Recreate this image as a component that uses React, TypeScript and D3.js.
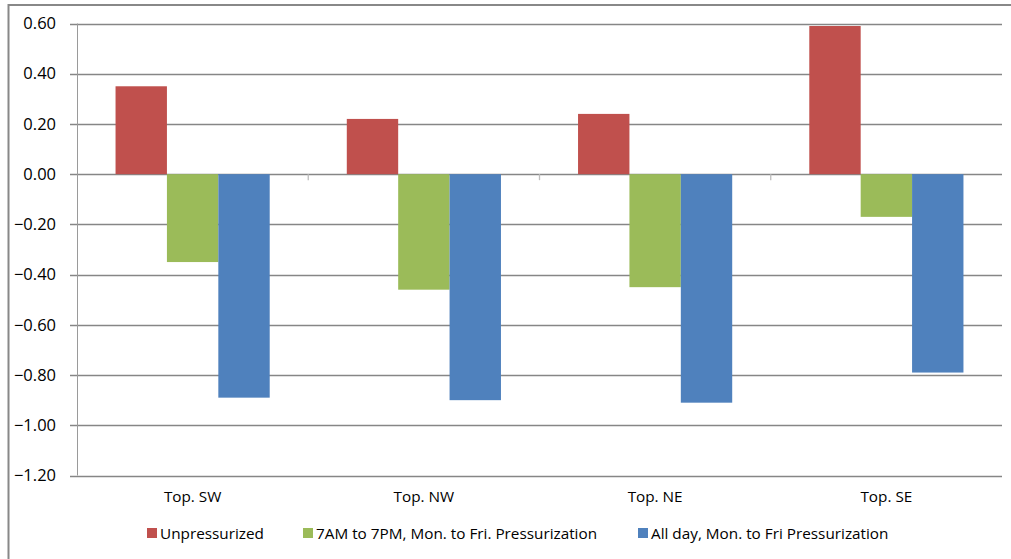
import React from "react";
import * as d3 from "d3";

const categories = ["Top. SW", "Top. NW", "Top. NE", "Top. SE"];
const seriesNames = [
  "Unpressurized",
  "7AM to 7PM, Mon. to Fri. Pressurization",
  "All day, Mon. to Fri Pressurization",
];
const unpressurized = [0.35, 0.22, 0.24, 0.59];
const weekdayDaytime = [-0.35, -0.46, -0.45, -0.17];
const allDayWeekdays = [-0.89, -0.9, -0.91, -0.79];
const yTicks = [0.6, 0.4, 0.2, 0, -0.2, -0.4, -0.6, -0.8, -1.0, -1.2];
const colors = ["#C0504D", "#9BBB59", "#4F81BD"];

const W = 1011;
const H = 559;
const plot = { left: 77, right: 1002, top: 23.5, bottom: 475.5 };
const FONT = "'Open Sans', 'Noto Sans', sans-serif";

export default function App() {
  const series = [unpressurized, weekdayDaytime, allDayWeekdays];
  const y = d3.scaleLinear().domain([-1.2, 0.6]).range([plot.bottom, plot.top]);
  const x0 = d3
    .scaleBand<string>()
    .domain(categories)
    .range([plot.left, plot.right])
    .paddingInner(0)
    .paddingOuter(0);
  const groupW = x0.bandwidth();
  const barW = groupW / 4.5;
  const x1 = d3
    .scaleBand<number>()
    .domain([0, 1, 2])
    .range([(groupW - 3 * barW) / 2, (groupW + 3 * barW) / 2]);

  const legendItems = [
    { x: 147, name: seriesNames[0] },
    { x: 303, name: seriesNames[1] },
    { x: 638, name: seriesNames[2] },
  ];

  return (
    <svg
      width={W}
      height={H}
      style={{ position: "absolute", left: 0, top: 0, display: "block", background: "#fff" }}
    >
      {/* outer chart frame */}
      <rect x={8.5} y={5} width={W + 20} height={H + 20} fill="#fff" stroke="#888" strokeWidth={2} />

      {/* gridlines */}
      {yTicks.map((t) => (
        <line
          key={"g" + t}
          x1={plot.left - 7}
          x2={plot.right}
          y1={Math.round(y(t)) + 0.5}
          y2={Math.round(y(t)) + 0.5}
          stroke="#868686"
          strokeWidth={1.3}
        />
      ))}

      {/* value axis */}
      <line x1={plot.left + 0.5} x2={plot.left + 0.5} y1={plot.top} y2={plot.bottom} stroke="#9a9a9a" strokeWidth={1} />

      {/* category tick marks */}
      {d3.range(1, categories.length).map((i) => (
        <line
          key={"ct" + i}
          x1={plot.left + i * groupW}
          x2={plot.left + i * groupW}
          y1={y(0)}
          y2={y(0) + 6}
          stroke="#bdbdbd"
          strokeWidth={1.3}
        />
      ))}

      {/* bars */}
      {categories.map((c, ci) =>
        series.map((vals, si) => {
          const v = vals[ci];
          const top = y(Math.max(0, v));
          const h = Math.abs(y(v) - y(0));
          return (
            <rect
              key={c + si}
              x={(x0(c) as number) + (x1(si) as number)}
              y={top}
              width={barW}
              height={h}
              fill={colors[si]}
            />
          );
        })
      )}

      {/* y tick labels */}
      {yTicks.map((t) => (
        <text
          key={"l" + t}
          x={56}
          y={y(t)}
          dy="0.35em"
          textAnchor="end"
          fontFamily={FONT}
          fontSize={16.5}
          fill="#000"
        >
          {d3.format(".2f")(t)}
        </text>
      ))}

      {/* category labels */}
      {categories.map((c) => (
        <text
          key={"c" + c}
          x={(x0(c) as number) + groupW / 2}
          y={497}
          dy="0.35em"
          textAnchor="middle"
          fontFamily={FONT}
          fontSize={15.3}
          fill="#000"
        >
          {c}
        </text>
      ))}

      {/* legend */}
      {legendItems.map((it, i) => (
        <g key={"lg" + i}>
          <rect x={it.x} y={528} width={10} height={10} fill={colors[i]} />
          <text x={it.x + 13} y={533.5} dy="0.35em" fontFamily={FONT} fontSize={15.3} fill="#000">
            {it.name}
          </text>
        </g>
      ))}
    </svg>
  );
}
